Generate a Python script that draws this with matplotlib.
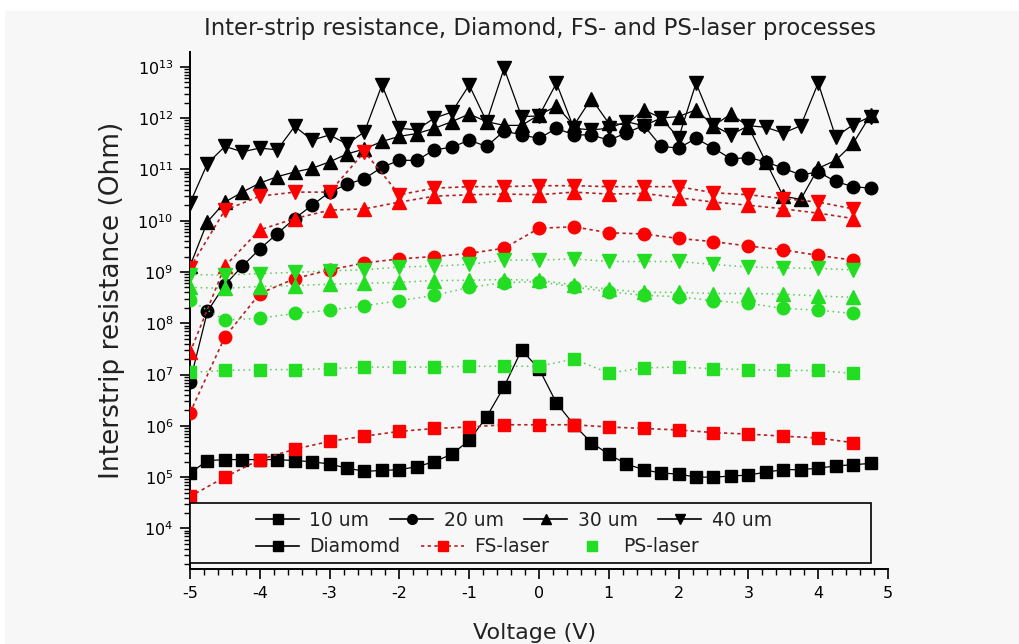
import matplotlib
matplotlib.use("Agg")
import matplotlib.pyplot as plt
from matplotlib.lines import Line2D
from matplotlib.patches import Rectangle
from matplotlib.ticker import FixedLocator, LogLocator, LogFormatterSciNotation, MultipleLocator

plt.rcParams['font.family'] = ['DejaVu Sans']

# ---------------- data ----------------
v_diamond = [-5.0, -4.75, -4.5, -4.25, -4.0, -3.75, -3.5, -3.25, -3.0, -2.75,
             -2.5, -2.25, -2.0, -1.75, -1.5, -1.25, -1.0, -0.75, -0.5, -0.25,
             0.0, 0.25, 0.5, 0.75, 1.0, 1.25, 1.5, 1.75, 2.0, 2.25,
             2.5, 2.75, 3.0, 3.25, 3.5, 3.75, 4.0, 4.25, 4.5, 4.75]

diamond_10um = [1.2e5, 2.1e5, 2.2e5, 2.2e5, 2.2e5, 2.2e5, 2.1e5, 2.0e5, 1.8e5, 1.5e5,
                1.3e5, 1.35e5, 1.4e5, 1.6e5, 2.0e5, 2.8e5, 5.2e5, 1.5e6, 5.8e6, 3.0e7,
                1.3e7, 2.8e6, 1.05e6, 4.7e5, 2.8e5, 1.8e5, 1.4e5, 1.2e5, 1.15e5, 1.0e5,
                1.0e5, 1.05e5, 1.1e5, 1.25e5, 1.4e5, 1.4e5, 1.5e5, 1.65e5, 1.75e5, 1.85e5]
diamond_20um = [7.2e6, 1.7e8, 5.6e8, 1.3e9, 2.8e9, 5.6e9, 1.1e10, 2.0e10, 3.6e10, 5.1e10,
                6.6e10, 1.1e11, 1.5e11, 1.5e11, 2.4e11, 2.7e11, 3.7e11, 2.8e11, 5.6e11, 4.7e11,
                4.0e11, 6.3e11, 4.7e11, 4.7e11, 3.7e11, 5.1e11, 7.2e11, 2.8e11, 2.6e11, 4.0e11,
                2.6e11, 1.6e11, 1.7e11, 1.4e11, 1.05e11, 7.8e10, 8.9e10, 5.8e10, 4.6e10, 4.3e10]
diamond_30um = [1.3e9, 9.5e9, 2.3e10, 3.6e10, 5.4e10, 7.2e10, 8.9e10, 1.05e11, 1.4e11, 2.0e11,
                2.5e11, 3.5e11, 4.4e11, 5.0e11, 6.3e11, 8.5e11, 1.2e12, 8.5e11, 7.2e11, 7.2e11,
                1.15e12, 1.7e12, 7.2e11, 2.4e12, 7.9e11, 7.4e11, 1.45e12, 1.0e12, 1.07e12, 1.45e12,
                7.1e11, 1.2e12, 6.8e11, 1.4e11, 3.0e10, 2.6e10, 1.05e11, 1.5e11, 3.2e11, 1.15e12]
diamond_40um = [2.2e10, 1.3e11, 2.8e11, 2.2e11, 2.6e11, 2.4e11, 6.9e11, 3.7e11, 4.7e11, 3.1e11,
                5.4e11, 4.4e12, 6.3e11, 5.9e11, 1.0e12, 1.3e12, 4.4e12, 8.5e11, 9.3e12, 1.07e12,
                1.1e12, 4.8e12, 6.3e11, 5.9e11, 6.3e11, 8.5e11, 7.1e11, 1.0e12, 4.1e11, 4.8e12,
                7.2e11, 4.7e11, 7.1e11, 6.6e11, 5.1e11, 7.1e11, 4.8e12, 4.3e11, 7.4e11, 1.07e12]

v_laser = [-5.0, -4.5, -4.0, -3.5, -3.0, -2.5, -2.0, -1.5, -1.0, -0.5,
           0.0, 0.5, 1.0, 1.5, 2.0, 2.5, 3.0, 3.5, 4.0, 4.5]

fs_10um = [4.2e4, 1.0e5, 2.2e5, 3.5e5, 5.0e5, 6.3e5, 7.8e5, 8.9e5, 9.5e5, 1.05e6,
           1.05e6, 1.05e6, 9.5e5, 8.9e5, 8.3e5, 7.4e5, 6.9e5, 6.3e5, 5.8e5, 4.7e5]
fs_20um = [1.8e6, 5.4e7, 3.8e8, 7.4e8, 1.1e9, 1.5e9, 1.8e9, 2.0e9, 2.3e9, 2.9e9,
           7.1e9, 7.6e9, 5.8e9, 5.5e9, 4.5e9, 3.9e9, 3.2e9, 2.7e9, 2.1e9, 1.7e9]
fs_30um = [2.7e7, 1.3e9, 6.6e9, 1.1e10, 1.6e10, 1.7e10, 2.3e10, 3.0e10, 3.2e10, 3.3e10,
           3.2e10, 3.6e10, 3.3e10, 3.4e10, 2.8e10, 2.3e10, 2.0e10, 1.7e10, 1.4e10, 1.1e10]
fs_40um = [1.2e9, 1.6e10, 3.0e10, 3.6e10, 3.6e10, 2.2e11, 3.2e10, 4.3e10, 4.6e10, 4.6e10,
           4.8e10, 4.8e10, 4.6e10, 4.6e10, 4.6e10, 3.5e10, 3.2e10, 2.7e10, 2.3e10, 1.7e10]

ps_10um = [1.1e7, 1.2e7, 1.25e7, 1.25e7, 1.3e7, 1.4e7, 1.4e7, 1.4e7, 1.45e7, 1.45e7,
           1.45e7, 2.0e7, 1.07e7, 1.35e7, 1.4e7, 1.3e7, 1.25e7, 1.2e7, 1.2e7, 1.05e7]
ps_20um = [2.8e8, 1.15e8, 1.25e8, 1.55e8, 1.8e8, 2.2e8, 2.75e8, 3.5e8, 5.0e8, 6.2e8,
           6.5e8, 5.1e8, 4.1e8, 3.5e8, 3.3e8, 2.75e8, 2.45e8, 1.95e8, 1.8e8, 1.55e8]
ps_30um = [5.0e8, 4.8e8, 5.2e8, 5.4e8, 5.8e8, 6.0e8, 6.3e8, 6.8e8, 6.9e8, 7.1e8,
           6.9e8, 5.6e8, 4.6e8, 4.0e8, 4.0e8, 3.8e8, 3.8e8, 3.7e8, 3.4e8, 3.2e8]
ps_40um = [8.9e8, 8.7e8, 9.3e8, 9.8e8, 1.05e9, 1.1e9, 1.25e9, 1.3e9, 1.4e9, 1.7e9,
           1.7e9, 1.8e9, 1.6e9, 1.6e9, 1.6e9, 1.4e9, 1.25e9, 1.2e9, 1.17e9, 1.1e9]

y_ticks = [1e4, 1e5, 1e6, 1e7, 1e8, 1e9, 1e10, 1e11, 1e12, 1e13]
x_ticks = [-5, -4, -3, -2, -1, 0, 1, 2, 3, 4, 5]
pitch_labels = ["10 um", "20 um", "30 um", "40 um"]
process_labels = ["Diamomd", "FS-laser", "PS-laser"]

# ---------------- figure ----------------
W, H = 1020, 644
BG = '#f7f7f7'
fig = plt.figure(figsize=(W / 100, H / 100), dpi=100, facecolor='white')
fig.add_artist(Rectangle((5 / W, 0), 1, 1 - 11 / H, transform=fig.transFigure,
                         facecolor=BG, edgecolor='none', zorder=-10))

ax = fig.add_axes([190 / W, (H - 569) / H, (888 - 190) / W, (569 - 52) / H])
ax.set_facecolor(BG)
ax.set_yscale('log')
ax.set_xlim(-5, 5)
ax.set_ylim(1.62e3, 1.94e13)

markers = ['s', 'o', '^', 'v']
msizes = [8.5, 9, 10, 10]

black = 'black'
red = '#ff0000'
red_line = '#b22222'
green = '#22dd22'
green_line = '#55cc55'

diamond = [diamond_10um, diamond_20um, diamond_30um, diamond_40um]
fs = [fs_10um, fs_20um, fs_30um, fs_40um]
ps = [ps_10um, ps_20um, ps_30um, ps_40um]

for m, ms, ys in zip(markers, msizes, diamond):
    ax.plot(v_diamond, ys, color=black, lw=0.9, marker=m, ms=ms,
            mfc=black, mec=black, zorder=3)
for m, ms, ys in zip(markers, msizes, fs):
    ax.plot(v_laser, ys, color=red_line, lw=1.2, ls=(0, (2, 2)), marker=m, ms=ms,
            mfc=red, mec=red, zorder=4)
for m, ms, ys in zip(markers, msizes, ps):
    ax.plot(v_laser, ys, color=green_line, lw=1.1, ls=(0, (1, 2.5)), marker=m, ms=ms,
            mfc=green, mec=green, zorder=5)

# axes styling
for s in ['top', 'right']:
    ax.spines[s].set_visible(False)
for s in ['left', 'bottom']:
    ax.spines[s].set_linewidth(1.4)
ax.xaxis.set_major_locator(FixedLocator(x_ticks))
ax.xaxis.set_minor_locator(MultipleLocator(0.2))
ax.yaxis.set_major_locator(FixedLocator(y_ticks))
ax.yaxis.set_major_formatter(LogFormatterSciNotation())
ax.yaxis.set_minor_locator(LogLocator(base=10, subs=[2, 3, 4, 5, 6, 7, 8, 9], numticks=100))
ax.tick_params(which='major', direction='out', length=7, width=1.2, labelsize=11.5, pad=5)
ax.tick_params(which='minor', direction='out', length=4, width=1.0)
ax.set_xticklabels([str(t) for t in x_ticks])

# titles / labels
fig.text(540 / W, 1 - 29 / H, "Inter-strip resistance, Diamond, FS- and PS-laser processes",
         ha='center', va='center', fontsize=16.4, color='#222222')
fig.text(112 / W, 1 - 300 / H, "Interstrip resistance (Ohm)", rotation=90,
         ha='center', va='center', fontsize=19, color='#222222')
fig.text(535 / W, 1 - 639 / H, "Voltage (V)", ha='center', va='baseline',
         fontsize=16, color='#222222')

# legend box
fig.add_artist(Rectangle((190 / W, (H - 563) / H), (871 - 190) / W, (563 - 503) / H,
                         transform=fig.transFigure, facecolor=BG, edgecolor='black',
                         lw=1.2, zorder=20))

row1 = [Line2D([], [], color=black, lw=1.2, marker=m, ms=7, mfc=black, mec=black)
        for m in markers]
row2 = [Line2D([], [], color=black, lw=1.2, marker='s', ms=7, mfc=black, mec=black),
        Line2D([], [], color=red_line, lw=1.2, ls=(0, (2, 2)), marker='s', ms=7, mfc=red, mec=red),
        Line2D([], [], color='none', lw=1.2, marker='s', ms=7, mfc=green, mec=green)]

common = dict(frameon=False, fontsize=13.5, handlelength=2.3, handletextpad=0.55,
              columnspacing=1.1, borderpad=0, borderaxespad=0, loc='center left',
              bbox_transform=fig.transFigure)
leg1 = fig.legend(row1, pitch_labels, ncol=4, bbox_to_anchor=(256 / W, 1 - 520 / H), **common)
leg2 = fig.legend(row2, process_labels, ncol=3, bbox_to_anchor=(256 / W, 1 - 547 / H), **common)
for lg in (leg1, leg2):
    lg.set_zorder(21)
    for t in lg.get_texts():
        t.set_color('#222222')

fig.savefig("out.png", dpi=100, facecolor=fig.get_facecolor())
